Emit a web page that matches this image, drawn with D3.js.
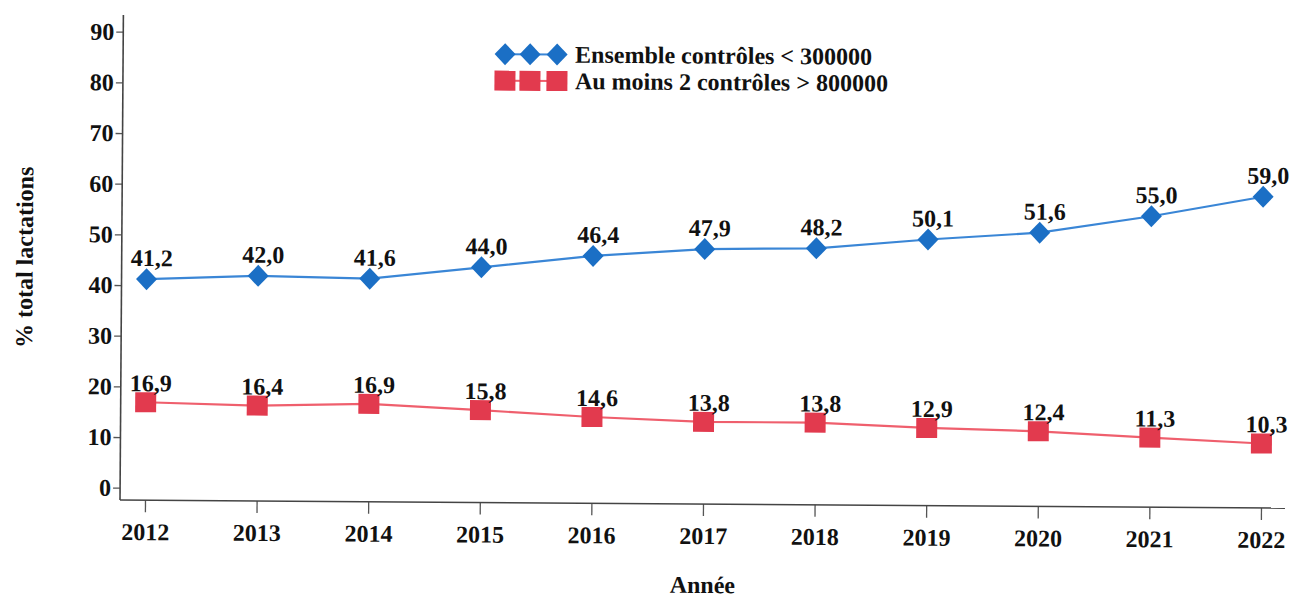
<!DOCTYPE html>
<html lang="fr">
<head>
    <meta charset="UTF-8">
    <title>lactations</title>
    <script src="https://d3js.org/d3.v7.min.js"></script>
    <style>
        body { margin: 0; background: #fff; }
    </style>
</head>
<body>
    <svg></svg>
    <script>
        // data
        const years = [2012, 2013, 2014, 2015, 2016, 2017, 2018, 2019, 2020, 2021, 2022];
        const ensemble = [41.2, 42.0, 41.6, 44.0, 46.4, 47.9, 48.2, 50.1, 51.6, 55.0, 59.0];
        const auMoins2 = [16.9, 16.4, 16.9, 15.8, 14.6, 13.8, 13.8, 12.9, 12.4, 11.3, 10.3];
        const seriesNames = ['Ensemble contrôles < 300000', 'Au moins 2 contrôles > 800000'];
        const yTicks = [0, 10, 20, 30, 40, 50, 60, 70, 80, 90];

        const svgWidth = 1290, svgHeight = 599;
        const font = '"Liberation Serif", "Times New Roman", serif';
        const fmt = d3.formatLocale({ decimal: ',', thousands: ' ', grouping: [3], currency: ['', ''] }).format('.1f');

        const series = [
            { name: seriesNames[0], values: ensemble, marker: '#1b6fc5', line: '#3a86d6', shape: 'diamond', dy: -13 },
            { name: seriesNames[1], values: auMoins2, marker: '#e23a4e', line: '#ef5f6d', shape: 'square', dy: -11 }
        ];

        const svg = d3.select('svg')
            .attr('width', svgWidth)
            .attr('height', svgHeight);

        // the scan is tilted slightly clockwise
        const g = svg.append('g')
            .attr('transform', 'rotate(0.4, 120, 500)');

        const x = d3.scalePoint().domain(years).range([145, 1261]);
        const y = d3.scaleLinear().domain([0, 90]).range([487.7, 31.7]);

        function markerPath(shape) {
            if (shape === 'diamond') return 'M0,-11L10.5,0L0,11L-10.5,0Z';
            return 'M-10.5,-10H10.5V10H-10.5Z';
        }

        function styleText(sel, size) {
            return sel.style('font-family', font)
                .style('font-weight', 'bold')
                .style('font-size', size + 'px')
                .attr('fill', '#111');
        }

        // axes
        const yAxis = g.append('g')
            .attr('transform', 'translate(120,0)')
            .call(d3.axisLeft(y).tickValues(yTicks).tickSize(7).tickPadding(2));
        yAxis.select('.domain').remove();
        yAxis.selectAll('line').attr('stroke', '#555').attr('stroke-width', 1.3);
        styleText(yAxis.selectAll('text'), 24);

        const xAxis = g.append('g')
            .attr('transform', 'translate(0,500)')
            .call(d3.axisBottom(x).tickSize(12).tickPadding(11));
        xAxis.select('.domain').remove();
        xAxis.selectAll('line').attr('stroke', '#555').attr('stroke-width', 1.3);
        styleText(xAxis.selectAll('text'), 24);

        g.append('line')
            .attr('x1', 120).attr('x2', 120)
            .attr('y1', 15).attr('y2', 500)
            .attr('stroke', '#444').attr('stroke-width', 1.6);
        g.append('line')
            .attr('x1', 120).attr('x2', 1285)
            .attr('y1', 500).attr('y2', 500)
            .attr('stroke', '#444').attr('stroke-width', 1.6);

        // axis titles
        styleText(g.append('text'), 24)
            .attr('transform', 'translate(31,258) rotate(-90)')
            .attr('text-anchor', 'middle')
            .text('% total lactations');
        styleText(g.append('text'), 24)
            .attr('x', 703)
            .attr('y', 589)
            .attr('text-anchor', 'middle')
            .text('Année');

        const line = d3.line()
            .x((d, i) => x(years[i]))
            .y(d => y(d));

        series.forEach(s => {
            g.append('path')
                .datum(s.values)
                .attr('fill', 'none')
                .attr('stroke', s.line)
                .attr('stroke-width', 2.2)
                .attr('d', line);

            g.selectAll(null)
                .data(s.values)
                .enter()
                .append('path')
                .attr('transform', (d, i) => `translate(${x(years[i])},${y(d)})`)
                .attr('d', markerPath(s.shape))
                .attr('fill', s.marker);

            styleText(g.selectAll(null)
                .data(s.values)
                .enter()
                .append('text'), 24)
                .attr('x', (d, i) => x(years[i]) + 5)
                .attr('y', d => y(d) + s.dy)
                .attr('text-anchor', 'middle')
                .text(d => fmt(d));
        });

        // legend
        const legend = g.append('g');
        const legendX = [502, 527, 554];
        series.forEach((s, k) => {
            const ly = 51.5 + k * 26.5;
            legend.append('line')
                .attr('x1', legendX[0]).attr('x2', legendX[2])
                .attr('y1', ly).attr('y2', ly)
                .attr('stroke', s.line).attr('stroke-width', 2);
            legendX.forEach(lx => {
                legend.append('path')
                    .attr('transform', `translate(${lx},${ly})`)
                    .attr('d', markerPath(s.shape))
                    .attr('fill', s.marker);
            });
            styleText(legend.append('text'), 24)
                .attr('x', 572)
                .attr('y', ly + 8)
                .text(s.name);
        });
    </script>
</body>
</html>
